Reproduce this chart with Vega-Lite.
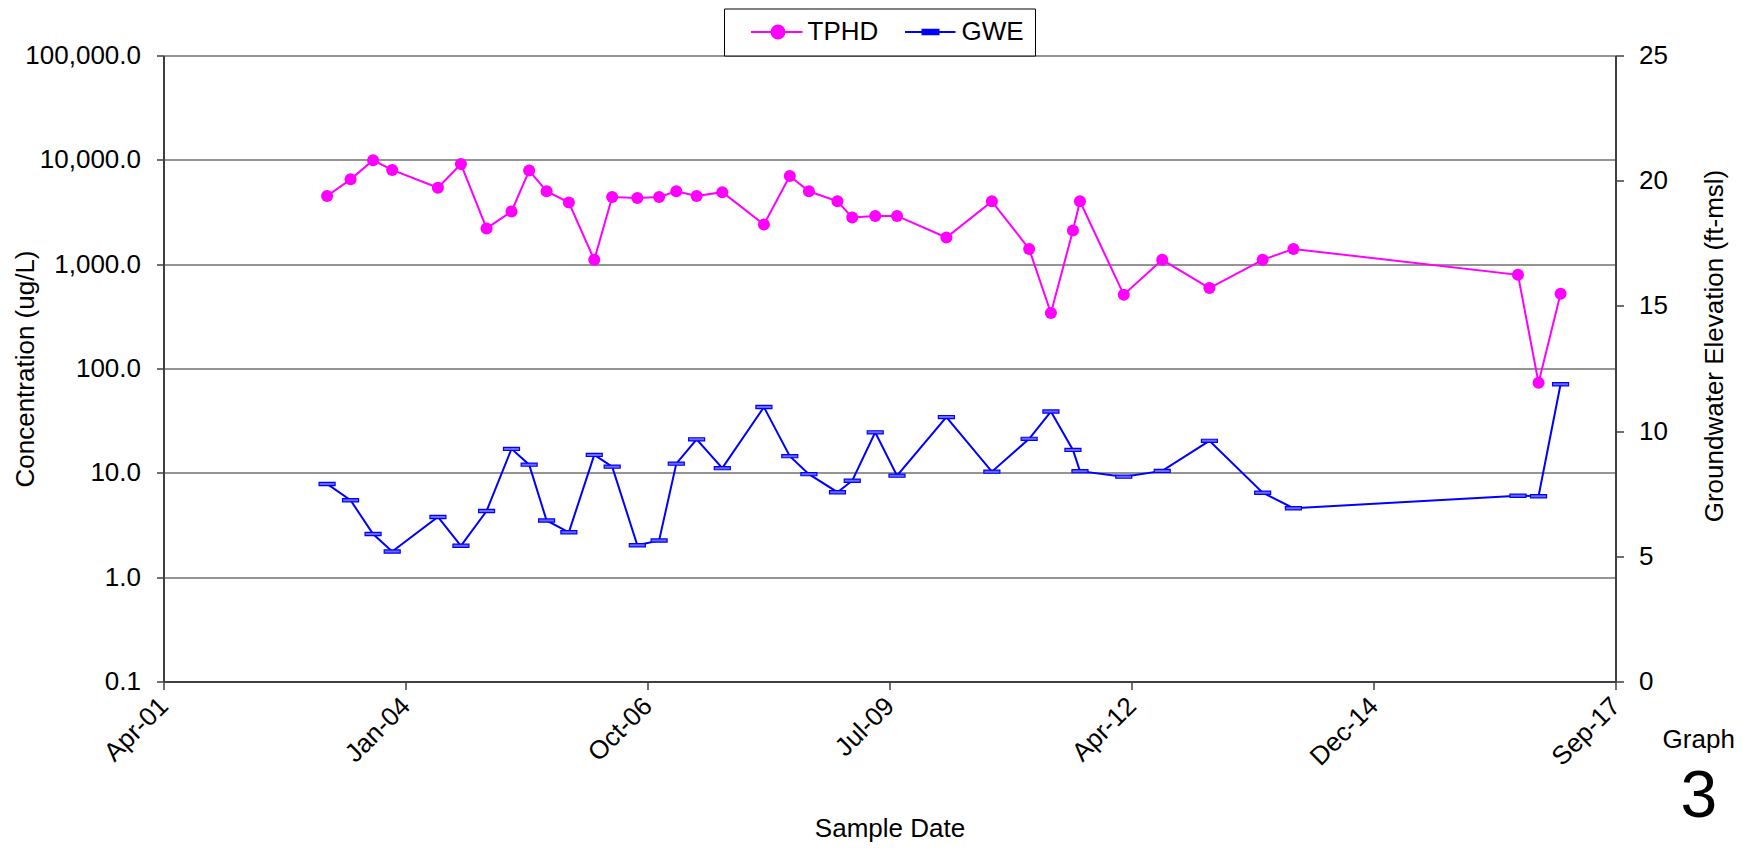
{
  "$schema": "https://vega.github.io/schema/vega-lite/v6.json",
  "width": 1452,
  "height": 626,
  "autosize": {"type": "none"},
  "padding": {"left": 163.5, "top": 55.5, "right": 127.5, "bottom": 168.5},
  "background": "white",
  "config": {
    "view": {"stroke": null},
    "font": "Liberation Sans",
    "axis": {
      "labelFont": "Liberation Sans",
      "titleFont": "Liberation Sans",
      "labelFontSize": 26,
      "titleFontSize": 26,
      "titleFontWeight": "normal",
      "labelColor": "black",
      "titleColor": "black",
      "domainColor": "#404040",
      "domainWidth": 2,
      "tickColor": "#404040",
      "tickWidth": 1.5,
      "labelOverlap": false,
      "labelFlush": false
    }
  },
  "datasets": {
    "samples": [
      {"date": "2003-02-25", "TPHD": 4500, "GWE": 7.89},
      {"date": "2003-06-02", "TPHD": 6500, "GWE": 7.24},
      {"date": "2003-09-03", "TPHD": 9900, "GWE": 5.89},
      {"date": "2003-11-21", "TPHD": 8000, "GWE": 5.19},
      {"date": "2004-05-28", "TPHD": 5400, "GWE": 6.57},
      {"date": "2004-08-31", "TPHD": 9100, "GWE": 5.42},
      {"date": "2004-12-15", "TPHD": 2200, "GWE": 6.81},
      {"date": "2005-03-28", "TPHD": 3200, "GWE": 9.29},
      {"date": "2005-06-09", "TPHD": 7900, "GWE": 8.66},
      {"date": "2005-08-20", "TPHD": 5000, "GWE": 6.43},
      {"date": "2005-11-20", "TPHD": 3900, "GWE": 5.96},
      {"date": "2006-03-05", "TPHD": 1100, "GWE": 9.05},
      {"date": "2006-05-18", "TPHD": 4400, "GWE": 8.58},
      {"date": "2006-08-30", "TPHD": 4300, "GWE": 5.44},
      {"date": "2006-11-28", "TPHD": 4400, "GWE": 5.63},
      {"date": "2007-02-07", "TPHD": 5000, "GWE": 8.70},
      {"date": "2007-05-02", "TPHD": 4500, "GWE": 9.67},
      {"date": "2007-08-16", "TPHD": 4900, "GWE": 8.52},
      {"date": "2008-02-04", "TPHD": 2400, "GWE": 10.96},
      {"date": "2008-05-21", "TPHD": 7000, "GWE": 9.00},
      {"date": "2008-08-08", "TPHD": 5000, "GWE": 8.28},
      {"date": "2008-12-04", "TPHD": 4000, "GWE": 7.56},
      {"date": "2009-02-03", "TPHD": 2800, "GWE": 8.02},
      {"date": "2009-05-09", "TPHD": 2900, "GWE": 9.95},
      {"date": "2009-08-07", "TPHD": 2900, "GWE": 8.22},
      {"date": "2010-02-27", "TPHD": 1800, "GWE": 10.56},
      {"date": "2010-09-03", "TPHD": 4000, "GWE": 8.38},
      {"date": "2011-02-04", "TPHD": 1400, "GWE": 9.69},
      {"date": "2011-05-05", "TPHD": 340, "GWE": 10.78},
      {"date": "2011-08-04", "TPHD": 2100, "GWE": 9.25},
      {"date": "2011-09-02", "TPHD": 4000, "GWE": 8.40},
      {"date": "2012-03-01", "TPHD": 510, "GWE": 8.18},
      {"date": "2012-08-07", "TPHD": 1100, "GWE": 8.41},
      {"date": "2013-02-18", "TPHD": 590, "GWE": 9.61},
      {"date": "2013-09-26", "TPHD": 1100, "GWE": 7.54},
      {"date": "2014-01-31", "TPHD": 1400, "GWE": 6.92},
      {"date": "2016-08-16", "TPHD": 790, "GWE": 7.42},
      {"date": "2016-11-09", "TPHD": 73, "GWE": 7.40},
      {"date": "2017-02-08", "TPHD": 520, "GWE": 11.87}
    ]
  },
  "layer": [
    {
      "layer": [
        {
          "data": {"name": "samples"},
          "mark": {"type": "line", "color": "#ff00ff", "strokeWidth": 2},
          "encoding": {
            "x": {
              "field": "date",
              "type": "temporal",
              "title": "Sample Date",
              "scale": {
                "type": "utc",
                "domain": [
                  {"year": 2001, "month": 4, "date": 20, "utc": true},
                  {"year": 2017, "month": 9, "date": 23, "utc": true}
                ]
              },
              "axis": {
                "values": [
                  {"year": 2001, "month": 4, "date": 20, "utc": true},
                  {"year": 2004, "month": 1, "date": 15, "utc": true},
                  {"year": 2006, "month": 10, "date": 11, "utc": true},
                  {"year": 2009, "month": 7, "date": 7, "utc": true},
                  {"year": 2012, "month": 4, "date": 2, "utc": true},
                  {"year": 2014, "month": 12, "date": 28, "utc": true},
                  {"year": 2017, "month": 9, "date": 23, "utc": true}
                ],
                "format": "%b-%y",
                "labelAngle": -45,
                "labelAlign": "right",
                "labelBaseline": "middle",
                "labelPadding": 12,
                "tickSize": 8,
                "grid": false,
                "titleY": 147,
                "titleBaseline": "middle"
              }
            },
            "y": {
              "field": "TPHD",
              "type": "quantitative",
              "title": "Concentration (ug/L)",
              "scale": {"type": "log", "domain": [0.1, 100000], "nice": false},
              "axis": {
                "values": [0.1, 1, 10, 100, 1000, 10000, 100000],
                "format": ",.1f",
                "grid": true,
                "gridColor": "#707070",
                "gridWidth": 1.3,
                "tickSize": 7,
                "labelPadding": 16,
                "titleX": -138,
                "titleBaseline": "middle"
              }
            },
            "color": {
              "datum": "TPHD",
              "scale": {"domain": ["TPHD", "GWE"], "range": ["#ff00ff", "#0000ff"]},
              "legend": {
                "orient": "none",
                "legendX": 560.5,
                "legendY": -47,
                "direction": "horizontal",
                "title": null,
                "padding": 10.5,
                "strokeColor": "black",
                "fillColor": "white",
                "labelFont": "Liberation Sans",
                "labelFontSize": 26,
                "labelColor": "black",
                "labelOffset": 47,
                "columnPadding": 10,
                "symbolSize": 400,
                "symbolStrokeWidth": 2,
                "encode": {
                  "symbols": {
                    "update": {
                      "shape": {"signal": "datum.value === 'TPHD' ? 'M0.35,0H5.5M3.7,0A0.65,0.65 0 1 1 2.4,0A0.65,0.65 0 1 1 3.7,0Z' : 'M0.35,0H5.4M2.1,-0.22H3.7V0.22H2.1Z'"},
                      "fill": {"signal": "datum.value === 'TPHD' ? '#ff00ff' : '#0000ff'"},
                      "stroke": {"signal": "datum.value === 'TPHD' ? '#ff00ff' : '#0000ff'"},
                      "strokeWidth": {"value": 2},
                      "size": {"value": 400},
                      "opacity": {"value": 1},
                      "fillOpacity": {"value": 1}
                    }
                  }
                }
              }
            }
          }
        },
        {
          "data": {"name": "samples"},
          "mark": {"type": "point", "filled": true, "shape": "circle", "size": 145, "color": "#ff00ff", "opacity": 1},
          "encoding": {
            "x": {"field": "date", "type": "temporal"},
            "y": {"field": "TPHD", "type": "quantitative"}
          }
        },
        {
          "data": {"values": [{"label": "Graph"}]},
          "mark": {"type": "text", "fontSize": 26, "font": "Liberation Sans", "color": "black", "align": "center", "baseline": "middle"},
          "encoding": {
            "x": {"datum": {"year": 2018, "month": 9, "date": 2, "utc": true}, "type": "temporal"},
            "y": {"datum": 0.0272, "type": "quantitative"},
            "text": {"field": "label", "type": "nominal"}
          }
        },
        {
          "data": {"values": [{"label": "3"}]},
          "mark": {"type": "text", "fontSize": 66, "font": "Liberation Sans", "color": "black", "align": "center", "baseline": "middle"},
          "encoding": {
            "x": {"datum": {"year": 2018, "month": 9, "date": 2, "utc": true}, "type": "temporal"},
            "y": {"datum": 0.0078, "type": "quantitative"},
            "text": {"field": "label", "type": "nominal"}
          }
        }
      ]
    },
    {
      "layer": [
        {
          "data": {"name": "samples"},
          "mark": {"type": "line", "color": "#0000ff", "strokeWidth": 2},
          "encoding": {
            "x": {"field": "date", "type": "temporal"},
            "y": {
              "field": "GWE",
              "type": "quantitative",
              "title": "Groundwater Elevation (ft-msl)",
              "scale": {"domain": [0, 25], "nice": false, "zero": true},
              "axis": {
                "orient": "right",
                "values": [0, 5, 10, 15, 20, 25],
                "format": "d",
                "grid": false,
                "tickSize": 8,
                "labelPadding": 15,
                "titleAngle": 270,
                "titleX": 98.5,
                "titleY": 290,
                "titleAlign": "center",
                "titleBaseline": "middle"
              }
            },
            "color": {"datum": "GWE"}
          }
        },
        {
          "data": {"name": "samples"},
          "mark": {"type": "point", "filled": true, "shape": "M-1,-0.2H1V0.2H-1Z", "size": 256, "fill": "#6a6aff", "stroke": "#0000ff", "strokeWidth": 1.2, "opacity": 1, "fillOpacity": 1},
          "encoding": {
            "x": {"field": "date", "type": "temporal"},
            "y": {"field": "GWE", "type": "quantitative"}
          }
        }
      ]
    }
  ],
  "resolve": {"scale": {"y": "independent"}}
}
